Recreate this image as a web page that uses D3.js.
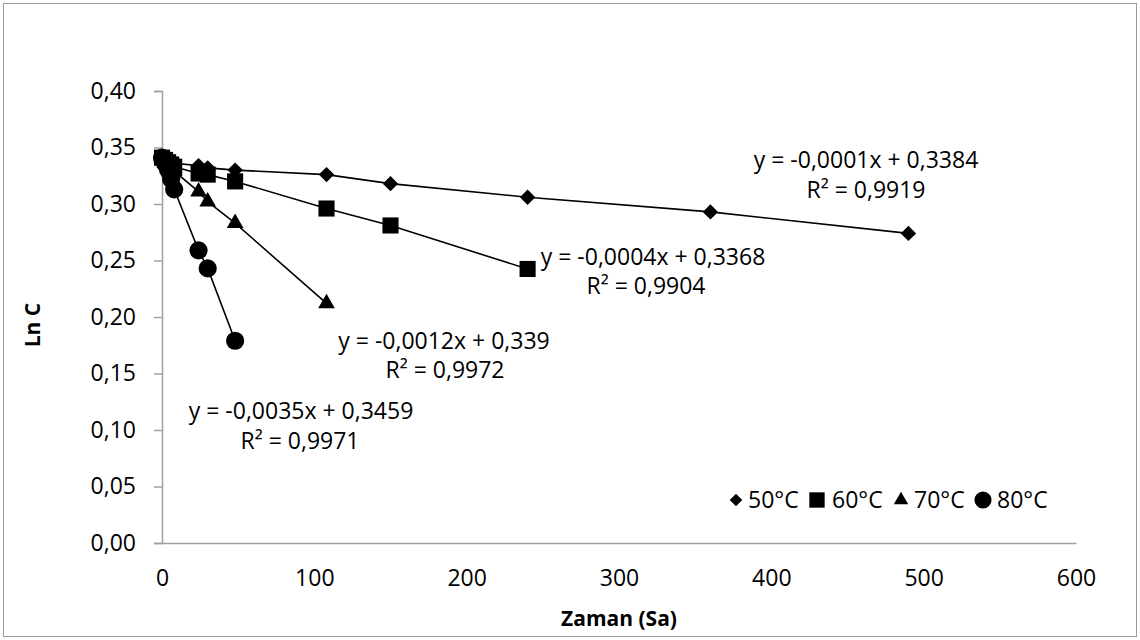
<!DOCTYPE html>
<html><head><meta charset="utf-8">
<script src="https://cdn.jsdelivr.net/npm/d3@7"></script>
<style>body{margin:0;background:#fff}svg{display:block}text{font-family:"Open Sans","Noto Sans",sans-serif}</style>
</head><body><svg id="c" width="1140" height="640"></svg>
<script>
const seriesNames = ["50°C","60°C","70°C","80°C"];
const timeAll = [0,2,4,6,8,24,30,48,108,150,240,360,490];
const ln50 = [0.342,0.340,0.338,0.337,0.336,0.334,0.332,0.330,0.326,0.318,0.306,0.293,0.274];
const time60 = [0,2,4,6,8,24,30,48,108,150,240];
const ln60 = [0.341,0.339,0.337,0.335,0.333,0.327,0.326,0.320,0.296,0.281,0.2425];
const time70 = [0,2,4,6,8,24,30,48,108];
const ln70 = [0.341,0.338,0.335,0.333,0.329,0.311,0.302,0.283,0.212];
const time80 = [0,2,4,6,8,24,30,48];
const ln80 = [0.341,0.336,0.330,0.322,0.313,0.259,0.243,0.179];
const eqs = ["y = -0,0001x + 0,3384","y = -0,0004x + 0,3368","y = -0,0012x + 0,339","y = -0,0035x + 0,3459"];
const r2s = ["R² = 0,9919","R² = 0,9904","R² = 0,9972","R² = 0,9971"];
const yTicks = [0,0.05,0.10,0.15,0.20,0.25,0.30,0.35,0.40];
const xTicks = [0,100,200,300,400,500,600];

const FS = 23;
const svg = d3.select("#c");
svg.append("rect").attr("x",3.5).attr("y",3.5).attr("width",1133).attr("height",633)
  .attr("fill","#fff").attr("stroke","#9a9a9a").attr("stroke-width",1);

const x = d3.scaleLinear().domain([0,600]).range([162,1076]);
const y = d3.scaleLinear().domain([0,0.40]).range([543,91]);
const fmt = v => d3.format(".2f")(v).replace(".",",");

// axes
const ya = svg.append("g").attr("transform","translate(162,0)")
  .call(d3.axisLeft(y).tickValues(yTicks).tickFormat(fmt).tickSize(8).tickPadding(18));
ya.select(".domain").attr("stroke","#a0a0a0").attr("stroke-width",1.5);
ya.selectAll(".tick line").attr("stroke","#a0a0a0").attr("stroke-width",1.5);
ya.selectAll("text").attr("font-size",FS).attr("fill","#000").attr("font-family","'Open Sans'");

const xa = svg.append("g").attr("transform","translate(0,543)")
  .call(d3.axisBottom(x).tickValues(xTicks).tickFormat(d3.format("d")).tickSize(0).tickPadding(27).tickSizeOuter(0));
xa.select(".domain").attr("stroke","#a0a0a0").attr("stroke-width",1.5);
xa.selectAll("text").attr("font-size",FS).attr("fill","#000").attr("font-family","'Open Sans'").attr("dy","0.71em");

svg.append("text").attr("x",619).attr("y",626).attr("text-anchor","middle")
  .attr("font-size",21).attr("font-weight","bold").text("Zaman (Sa)");
svg.append("text").attr("transform","translate(40,325) rotate(-90)").attr("text-anchor","middle")
  .attr("font-size",21).attr("font-weight","bold").text("Ln C");

const data = [
  {t:timeAll, v:ln50, sym:d3.symbolDiamond2, size:150},
  {t:time60, v:ln60, sym:d3.symbolSquare2, size:330},
  {t:time70, v:ln70, sym:d3.symbolTriangle2, size:200},
  {t:time80, v:ln80, sym:d3.symbolCircle, size:260}
];
const line = d3.line().x(d=>x(d[0])).y(d=>y(d[1]));
data.forEach(s=>{
  const pts = s.t.map((t,i)=>[t,s.v[i]]);
  svg.append("path").attr("d",line(pts)).attr("fill","none").attr("stroke","#000").attr("stroke-width",1.6);
});
data.forEach(s=>{
  const pts = s.t.map((t,i)=>[t,s.v[i]]);
  svg.append("g").selectAll("path").data(pts).join("path")
    .attr("d",d3.symbol().type(s.sym).size(s.size))
    .attr("transform",d=>`translate(${x(d[0])},${y(d[1])})`).attr("fill","#000");
});

// equations
const eqPos = [[866,168,866,198],[653,265,646,294],[444,349,445,378],[301,419,300,449]];
eqs.forEach((e,i)=>{
  svg.append("text").attr("x",eqPos[i][0]).attr("y",eqPos[i][1]).attr("text-anchor","middle").attr("font-size",FS).text(e);
  svg.append("text").attr("x",eqPos[i][2]).attr("y",eqPos[i][3]).attr("text-anchor","middle").attr("font-size",FS).text(r2s[i]);
});

// legend
const legX = [736,817,901,983];
const legOff = [12,15,13,14];
const legSym = [[d3.symbolDiamond2,100],[d3.symbolSquare2,300],[d3.symbolTriangle2,150],[d3.symbolCircle,230]];
seriesNames.forEach((n,i)=>{
  svg.append("path").attr("d",d3.symbol().type(legSym[i][0]).size(legSym[i][1]))
    .attr("transform",`translate(${legX[i]},500)`).attr("fill","#000");
  svg.append("text").attr("x",legX[i]+legOff[i]).attr("y",508).attr("font-size",FS).text(n);
});
</script></body></html>
